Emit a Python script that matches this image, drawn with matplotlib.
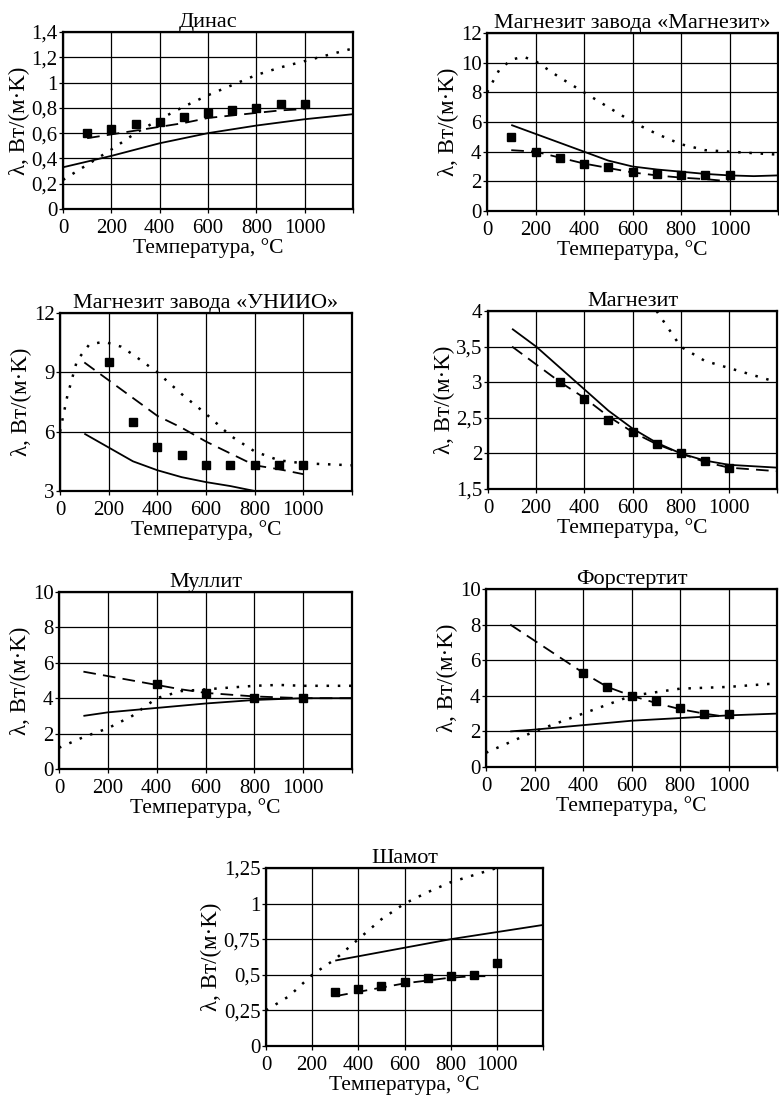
import matplotlib
matplotlib.use('Agg')
import matplotlib.pyplot as plt
import matplotlib.ticker as tkr

plt.rcParams['font.family'] = ['Liberation Serif', 'DejaVu Serif']

# --- data: temperature (C) and conductivity, per panel and series ---
# Динас
dinas_sol_t = [0, 200, 400, 600, 800, 1000, 1200]
dinas_sol_v = [0.33, 0.42, 0.52, 0.60, 0.66, 0.71, 0.75]
dinas_dash_t = [100, 200, 300, 400, 500, 600, 700, 800, 900, 1000]
dinas_dash_v = [0.56, 0.59, 0.62, 0.65, 0.68, 0.72, 0.74, 0.76, 0.78, 0.79]
dinas_dot_t = [0, 100, 200, 300, 400, 500, 600, 700, 800, 900, 1000, 1100, 1200]
dinas_dot_v = [0.23, 0.35, 0.47, 0.60, 0.71, 0.81, 0.90, 0.98, 1.06, 1.12, 1.17, 1.22, 1.27]
dinas_pts_t = [100, 200, 300, 400, 500, 600, 700, 800, 900, 1000]
dinas_pts_v = [0.60, 0.63, 0.67, 0.69, 0.73, 0.76, 0.78, 0.80, 0.83, 0.83]

# Магнезит завода «Магнезит»
mgz_sol_t = [100, 200, 300, 400, 500, 600, 700, 800, 900, 1000, 1100, 1200]
mgz_sol_v = [5.8, 5.2, 4.6, 4.0, 3.4, 3.0, 2.8, 2.65, 2.5, 2.4, 2.35, 2.4]
mgz_dash_t = [100, 200, 300, 400, 500, 600, 700, 800, 900, 1000]
mgz_dash_v = [4.1, 4.0, 3.6, 3.2, 2.9, 2.6, 2.4, 2.25, 2.15, 2.0]
mgz_dot_t = [0, 50, 100, 150, 200, 300, 400, 500, 600, 700, 800, 900, 1000, 1200]
mgz_dot_v = [8.0, 9.5, 10.2, 10.4, 10.1, 9.0, 8.0, 7.0, 6.0, 5.2, 4.5, 4.1, 4.0, 3.8]
mgz_pts_t = [100, 200, 300, 400, 500, 600, 700, 800, 900, 1000]
mgz_pts_v = [5.0, 4.0, 3.6, 3.2, 3.0, 2.6, 2.5, 2.45, 2.4, 2.4]

# Магнезит завода «УНИИО»
uni_sol_t = [100, 200, 300, 400, 500, 600, 700, 800]
uni_sol_v = [5.9, 5.2, 4.5, 4.05, 3.7, 3.45, 3.25, 3.0]
uni_dash_t = [100, 200, 300, 400, 500, 600, 700, 800, 900, 1000]
uni_dash_v = [9.5, 8.6, 7.7, 6.8, 6.2, 5.5, 4.9, 4.3, 4.1, 3.85]
uni_dot_t = [0, 30, 70, 120, 180, 250, 300, 400, 500, 600, 700, 800, 900, 1000, 1200]
uni_dot_v = [6.0, 7.8, 9.6, 10.4, 10.55, 10.3, 9.9, 9.0, 7.9, 6.9, 5.8, 5.0, 4.55, 4.4, 4.3]
uni_pts_t = [200, 300, 400, 500, 600, 700, 800, 900, 1000]
uni_pts_v = [9.5, 6.5, 5.2, 4.8, 4.3, 4.3, 4.3, 4.3, 4.3]

# Магнезит
mg_sol_t = [100, 200, 300, 400, 500, 600, 700, 800, 900, 1000, 1200]
mg_sol_v = [3.75, 3.5, 3.2, 2.9, 2.6, 2.35, 2.15, 2.0, 1.9, 1.84, 1.8]
mg_dash_t = [100, 200, 300, 400, 500, 600, 700, 800, 900, 1000, 1200]
mg_dash_v = [3.5, 3.25, 3.0, 2.78, 2.52, 2.3, 2.13, 2.0, 1.88, 1.8, 1.75]
mg_dot_t = [700, 800, 900, 1000, 1200]
mg_dot_v = [4.0, 3.5, 3.3, 3.2, 3.0]
mg_pts_t = [300, 400, 500, 600, 700, 800, 900, 1000]
mg_pts_v = [3.0, 2.76, 2.47, 2.3, 2.13, 2.0, 1.9, 1.8]

# Муллит
mul_sol_t = [100, 200, 400, 600, 800, 1000, 1200]
mul_sol_v = [3.0, 3.2, 3.45, 3.7, 3.9, 4.0, 4.0]
mul_dash_t = [100, 200, 300, 400, 500, 600, 800, 1000, 1200]
mul_dash_v = [5.5, 5.25, 5.0, 4.75, 4.5, 4.3, 4.1, 4.0, 4.0]
mul_dot_t = [0, 100, 200, 300, 400, 500, 600, 800, 900, 1000, 1200]
mul_dot_v = [1.2, 1.8, 2.3, 3.0, 4.0, 4.4, 4.5, 4.7, 4.75, 4.7, 4.7]
mul_pts_t = [400, 600, 800, 1000]
mul_pts_v = [4.8, 4.3, 4.0, 4.0]

# Форстертит
fo_sol_t = [100, 200, 400, 600, 800, 1000, 1200]
fo_sol_v = [2.0, 2.1, 2.35, 2.6, 2.75, 2.9, 3.0]
fo_dash_t = [100, 200, 300, 400, 500, 600, 700, 800, 900, 1000]
fo_dash_v = [8.0, 7.1, 6.2, 5.3, 4.5, 4.0, 3.6, 3.25, 3.0, 2.8]
fo_dot_t = [0, 200, 400, 600, 700, 800, 1000, 1200]
fo_dot_v = [0.8, 2.0, 3.0, 4.0, 4.2, 4.4, 4.5, 4.7]
fo_pts_t = [400, 500, 600, 700, 800, 900, 1000]
fo_pts_v = [5.3, 4.5, 4.0, 3.7, 3.3, 3.0, 2.95]

# Шамот
sh_sol_t = [300, 400, 600, 800, 1000, 1200]
sh_sol_v = [0.60, 0.63, 0.69, 0.75, 0.80, 0.85]
sh_dash_t = [300, 400, 500, 600, 700, 800, 900, 970]
sh_dash_v = [0.35, 0.38, 0.41, 0.44, 0.46, 0.48, 0.49, 0.49]
sh_dot_t = [0, 100, 200, 300, 400, 500, 600, 700, 800, 900, 1000]
sh_dot_v = [0.25, 0.35, 0.50, 0.61, 0.75, 0.89, 1.0, 1.08, 1.15, 1.20, 1.25]
sh_pts_t = [300, 400, 500, 600, 700, 800, 900, 1000]
sh_pts_v = [0.38, 0.40, 0.42, 0.45, 0.48, 0.49, 0.50, 0.58]

W, H = 779, 1097
fig = plt.figure(figsize=(W / 100, H / 100), dpi=100)


def comma(x, pos):
    return f'{x:g}'.replace('.', ',')


def panel(px, title, ymax, ystep, ymin, series):
    l, r, t, b = px
    ax = fig.add_axes([l / W, 1 - b / H, (r - l) / W, (b - t) / H])
    (st, sv), (dt, dv), (ot, ov), (mt, mv) = series
    ax.plot(st, sv, color='black', lw=1.3, solid_capstyle='butt')
    ax.plot(dt, dv, color='black', lw=1.3, linestyle=(0, (7, 4)))
    ax.plot(ot, ov, color='black', lw=1.8, linestyle=(0, (1, 3.5)))
    ax.plot(mt, mv, 's', color='black', ms=5.8, clip_on=False)
    ax.set_xlim(0, 1200)
    ax.set_ylim(ymin, ymax)
    ax.set_xticks([0, 200, 400, 600, 800, 1000, 1200])
    ax.set_xticklabels(['0', '200', '400', '600', '800', '1000', ''])
    ax.yaxis.set_major_locator(tkr.MultipleLocator(ystep))
    ax.yaxis.set_major_formatter(tkr.FuncFormatter(comma))
    ax.grid(True, color='black', lw=0.9)
    ax.set_axisbelow(True)
    for s in ax.spines.values():
        s.set_linewidth(1.6)
    ax.tick_params(direction='out', length=3, width=0.9, labelsize=15)
    ax.tick_params(axis='x', pad=4)
    ax.tick_params(axis='y', pad=1)
    ax.set_title(title, fontsize=16, pad=3)
    ax.set_xlabel('Температура, °C', fontsize=15.5, labelpad=0)
    ax.set_ylabel('λ, Вт/(м·K)', fontsize=16.5, labelpad=1)
    return ax


panel((63, 353, 32, 209), 'Динас', 1.4, 0.2, 0,
      [(dinas_sol_t, dinas_sol_v), (dinas_dash_t, dinas_dash_v),
       (dinas_dot_t, dinas_dot_v), (dinas_pts_t, dinas_pts_v)])
panel((487, 778, 33, 211), 'Магнезит завода «Магнезит»', 12, 2, 0,
      [(mgz_sol_t, mgz_sol_v), (mgz_dash_t, mgz_dash_v),
       (mgz_dot_t, mgz_dot_v), (mgz_pts_t, mgz_pts_v)])
panel((60, 352, 313, 491), 'Магнезит завода «УНИИО»', 12, 3, 3,
      [(uni_sol_t, uni_sol_v), (uni_dash_t, uni_dash_v),
       (uni_dot_t, uni_dot_v), (uni_pts_t, uni_pts_v)])
panel((488, 777, 311, 489), 'Магнезит', 4, 0.5, 1.5,
      [(mg_sol_t, mg_sol_v), (mg_dash_t, mg_dash_v),
       (mg_dot_t, mg_dot_v), (mg_pts_t, mg_pts_v)])
panel((59, 352, 592, 769), 'Муллит', 10, 2, 0,
      [(mul_sol_t, mul_sol_v), (mul_dash_t, mul_dash_v),
       (mul_dot_t, mul_dot_v), (mul_pts_t, mul_pts_v)])
panel((486, 777, 589, 767), 'Форстертит', 10, 2, 0,
      [(fo_sol_t, fo_sol_v), (fo_dash_t, fo_dash_v),
       (fo_dot_t, fo_dot_v), (fo_pts_t, fo_pts_v)])
panel((266, 543, 868, 1046), 'Шамот', 1.25, 0.25, 0,
      [(sh_sol_t, sh_sol_v), (sh_dash_t, sh_dash_v),
       (sh_dot_t, sh_dot_v), (sh_pts_t, sh_pts_v)])

fig.savefig('out.png', dpi=100)
